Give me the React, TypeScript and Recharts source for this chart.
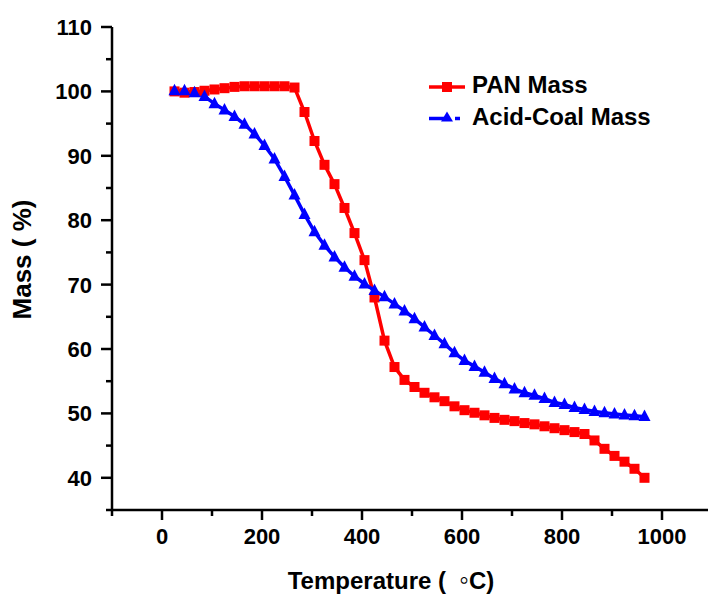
import { LineChart, Line, XAxis, YAxis, Legend } from 'recharts'

// temperature (°C) of each sampled point
const temperature = [
  25, 45, 65, 85, 105, 125, 145, 165, 185, 205,
  225, 245, 265, 285, 305, 325, 345, 365, 385, 405,
  425, 445, 465, 485, 505, 525, 545, 565, 585, 605,
  625, 645, 665, 685, 705, 725, 745, 765, 785, 805,
  825, 845, 865, 885, 905, 925, 945, 965,
]

const panMass = [
  100.0, 99.8, 99.9, 100.1, 100.3, 100.5, 100.7, 100.8, 100.8, 100.8,
  100.8, 100.8, 100.6, 96.8, 92.3, 88.6, 85.6, 81.9, 78.0, 73.8,
  68.0, 61.3, 57.2, 55.2, 54.1, 53.2, 52.5, 51.9, 51.1, 50.5,
  50.1, 49.7, 49.3, 49.0, 48.8, 48.5, 48.3, 48.0, 47.7, 47.4,
  47.1, 46.8, 45.8, 44.5, 43.4, 42.5, 41.4, 40.0,
]

const acidCoalMass = [
  100.1, 100.1, 99.8, 99.2, 98.1, 97.1, 96.1, 94.9, 93.4, 91.6,
  89.5, 86.8, 83.9, 80.9, 78.2, 76.1, 74.3, 72.7, 71.3, 70.1,
  69.1, 68.1, 67.0, 65.9, 64.7, 63.4, 62.1, 60.8, 59.4, 58.2,
  57.3, 56.4, 55.4, 54.6, 53.8, 53.2, 52.8, 52.3, 51.7, 51.4,
  50.9, 50.6, 50.3, 50.1, 49.9, 49.75, 49.65, 49.5,
]

const xTicks = [-100, 0, 100, 200, 300, 400, 500, 600, 700, 800, 900, 1000]
const yTicks = [35, 40, 45, 50, 55, 60, 65, 70, 75, 80, 85, 90, 95, 100, 105, 110]
const seriesOrder = ['pan', 'coal']

const FONT = 'Arial, "Liberation Sans", Helvetica, sans-serif'
const RED = '#ff0000'
const BLUE = '#0000ff'

const data = temperature.map((t, i) => ({
  t,
  pan: panMass[i],
  coal: acidCoalMass[i],
}))

const XTick = ({ x, y, payload }: any) => {
  const major = payload.value % 200 === 0
  return (
    <g>
      <line x1={x} y1={y} x2={x} y2={y + (major ? 10 : 6)} stroke="#000" strokeWidth={2.5} />
      {major && (
        <text x={x} y={y + 34} textAnchor="middle" fontFamily={FONT} fontWeight="bold" fontSize={22} fill="#000">
          {payload.value}
        </text>
      )}
    </g>
  )
}

const YTick = ({ x, y, payload }: any) => {
  const major = payload.value % 10 === 0
  return (
    <g>
      <line x1={x - (major ? 11 : 6)} y1={y} x2={x} y2={y} stroke="#000" strokeWidth={2.5} />
      {major && (
        <text x={x - 20} y={y + 8} textAnchor="end" fontFamily={FONT} fontWeight="bold" fontSize={22} fill="#000">
          {payload.value}
        </text>
      )}
    </g>
  )
}

const SquareDot = ({ cx, cy, index }: any) => (
  <rect key={`sq-${index}`} x={cx - 5} y={cy - 5} width={10} height={10} fill={RED} />
)

const TriangleDot = ({ cx, cy, index }: any) => (
  <path key={`tr-${index}`} d={`M${cx},${cy - 7} L${cx - 6},${cy + 4.5} L${cx + 6},${cy + 4.5} Z`} fill={BLUE} />
)

const renderLegend = ({ payload }: any) => {
  const items = [...(payload || [])].sort(
    (a: any, b: any) => seriesOrder.indexOf(a.dataKey) - seriesOrder.indexOf(b.dataKey)
  )
  return (
    <svg width={270} height={64}>
      {items.map((entry: any, i: number) => {
        const cy = 15 + i * 31.5
        const isPan = entry.dataKey === 'pan'
        return (
          <g key={entry.value}>
            {isPan ? (
              <>
                <line x1={4} y1={cy} x2={40} y2={cy} stroke={RED} strokeWidth={3.5} />
                <rect x={17} y={cy - 5} width={10} height={10} fill={RED} />
              </>
            ) : (
              <>
                <line x1={4} y1={cy} x2={25} y2={cy} stroke={BLUE} strokeWidth={3.5} />
                <path d={`M22,${cy - 7} L16,${cy + 3} L28,${cy + 3} Z`} fill={BLUE} />
                <line x1={30} y1={cy} x2={35} y2={cy} stroke={BLUE} strokeWidth={3.5} />
              </>
            )}
            <text x={47} y={cy + 6} fontFamily={FONT} fontWeight="bold" fontSize={24} fill="#000">
              {entry.value}
            </text>
          </g>
        )
      })}
    </svg>
  )
}

export default function App() {
  return (
    <div style={{ position: 'absolute', left: 0, top: 0, width: 708, height: 600, background: '#fff' }}>
      <LineChart width={708} height={600} data={data} margin={{ top: 27, right: 0, bottom: 0, left: 0 }}>
        <XAxis
          dataKey="t"
          type="number"
          domain={[-100, 1092]}
          ticks={xTicks}
          interval={0}
          tickSize={0}
          tickMargin={0}
          tickLine={false}
          tick={<XTick />}
          height={90}
          axisLine={{ stroke: '#000', strokeWidth: 2.5 }}
          allowDataOverflow
          label={({ viewBox }: any) => (
            <text
              x={viewBox.x + viewBox.width / 2 - 19}
              y={viewBox.y + 79}
              textAnchor="middle"
              fontFamily={FONT}
              fontWeight="bold"
              fontSize={24}
              fill="#000"
            >
              Temperature (<tspan dx={13} fontSize={28}>◦</tspan>C)
            </text>
          )}
        />
        <YAxis
          type="number"
          domain={[35, 110]}
          ticks={yTicks}
          interval={0}
          tickSize={0}
          tickMargin={0}
          tickLine={false}
          tick={<YTick />}
          width={112}
          axisLine={{ stroke: '#000', strokeWidth: 2.5 }}
          allowDataOverflow
          label={({ viewBox }: any) => {
            const cx = 31
            const cy = viewBox.y + viewBox.height / 2 - 9
            return (
              <text
                x={cx}
                y={cy}
                transform={`rotate(-90, ${cx}, ${cy})`}
                textAnchor="middle"
                fontFamily={FONT}
                fontWeight="bold"
                fontSize={26}
                fill="#000"
              >
                Mass ( %)
              </text>
            )
          }}
        />
        <Legend
          layout="vertical"
          verticalAlign="middle"
          align="center"
          content={renderLegend}
          wrapperStyle={{ position: 'absolute', left: 425, top: 72, width: 270 }}
        />
        <Line
          dataKey="pan"
          name="PAN Mass"
          type="linear"
          stroke={RED}
          strokeWidth={3.5}
          dot={SquareDot}
          activeDot={false}
          isAnimationActive={false}
        />
        <Line
          dataKey="coal"
          name="Acid-Coal Mass"
          type="linear"
          stroke={BLUE}
          strokeWidth={3.5}
          dot={TriangleDot}
          activeDot={false}
          isAnimationActive={false}
        />
      </LineChart>
    </div>
  )
}
